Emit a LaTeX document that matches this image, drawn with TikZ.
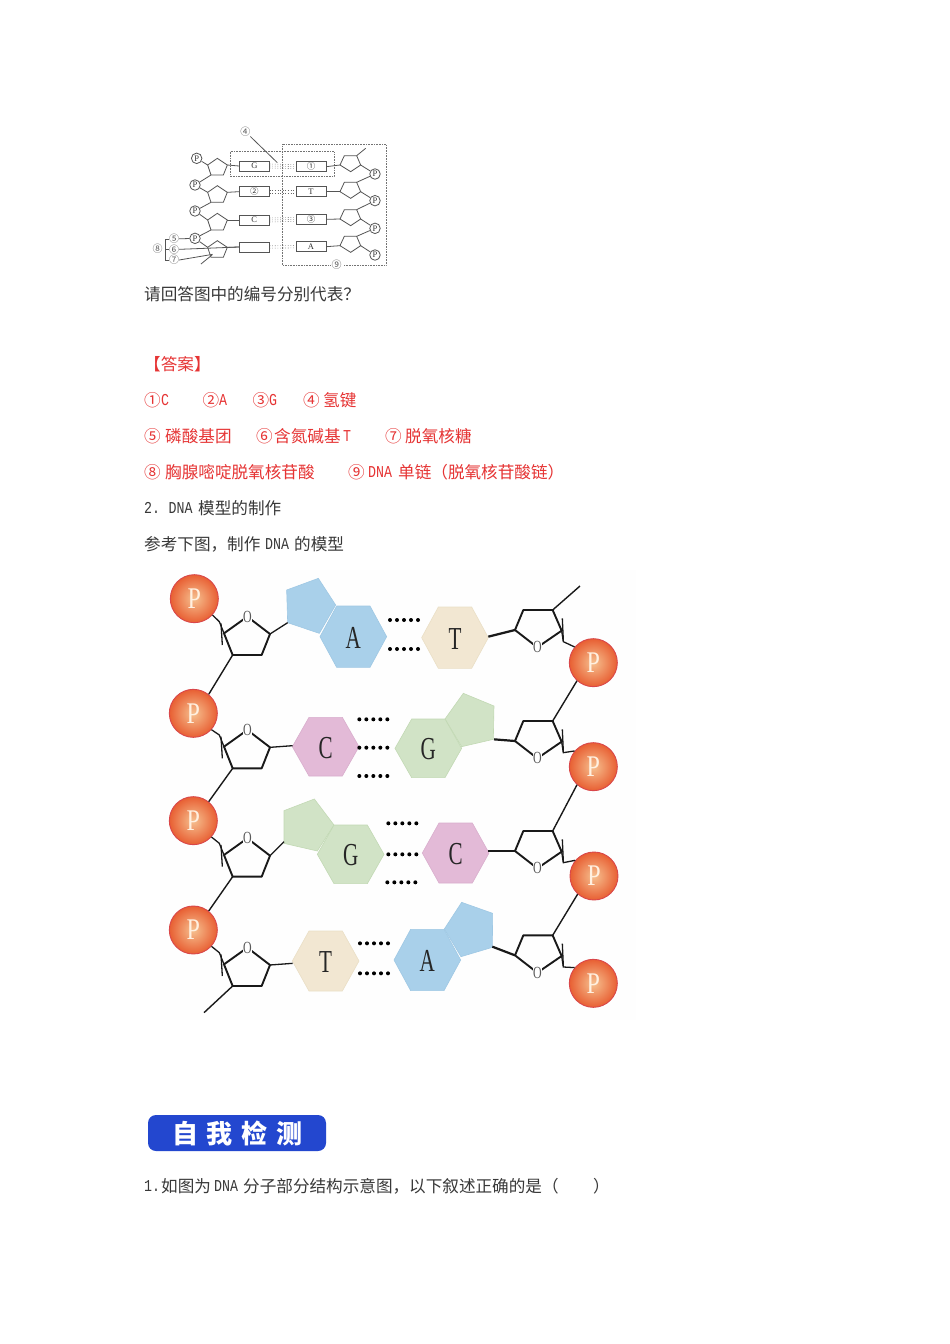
\documentclass[tikz,border=0pt]{standalone}
\usepackage{fontspec}
\setmainfont{Liberation Serif}
\newfontfamily\cj{Noto Sans CJK SC}
\newfontfamily\la[FakeStretch=0.8]{Liberation Mono}
\newcommand{\szb}{\fontsize{16.6}{20}\selectfont}
\newcommand{\szl}{\fontsize{16.6}{20}\selectfont}
\definecolor{txt}{HTML}{383838}
\definecolor{ans}{HTML}{E63434}
\definecolor{lin}{HTML}{555555}
\definecolor{bluef}{HTML}{A9D0EA}
\definecolor{bluel}{HTML}{9FC8E4}
\definecolor{tanf}{HTML}{F2E7D2}
\definecolor{tanl}{HTML}{EADFC6}
\definecolor{pinkf}{HTML}{E3BAD7}
\definecolor{pinkl}{HTML}{D9AECD}
\definecolor{greenf}{HTML}{D1E3C6}
\definecolor{greenl}{HTML}{C2D9B4}
\definecolor{btn}{HTML}{2347CF}
\definecolor{ballin}{HTML}{F6C08F}
\definecolor{ballout}{HTML}{E85F33}
\definecolor{ballrim}{HTML}{D9474A}
\tikzset{
 cn/.style={anchor=west,inner sep=0pt,text=txt,font=\cj\szb},
 ln/.style={anchor=west,inner sep=0pt,text=txt,font=\la\szl},
 ca/.style={cn,text=ans},
 la/.style={ln,text=ans},
 pball/.style={circle,minimum size=48pt,inner sep=0pt,inner color=ballin,outer color=ballout,draw=ballrim,line width=.9pt},
 plet/.style={inner sep=0pt,text=white!88!orange,font=\fontsize{30}{32}\selectfont,xscale=.8},
 stick/.style={line width=1.9pt,black!90,line join=round},
 link/.style={line width=1.3pt,black!90},
 thicklink/.style={line width=2.2pt,black!90},
 sugO/.style={fill=white,inner sep=.2pt,text=black!65,font=\fontsize{17}{18}\selectfont,xscale=.7},
 baselet/.style={inner sep=0pt,text=black!85,font=\fontsize{32}{34}\selectfont,xscale=.66},
 smp/.style={circle,draw=lin,line width=.8pt,minimum size=10.5pt,inner sep=0pt,fill=white,font=\fontsize{8.5}{9}\selectfont,text=black!80},
 smline/.style={draw=lin,line width=.8pt},
 smrect/.style={draw=lin,line width=.8pt,minimum width=30pt,minimum height=10pt,inner sep=0pt,font=\fontsize{8.5}{9}\selectfont,text=black!80},
 smdash/.style={dotted,black!60,line width=.6pt},
 smbox/.style={densely dotted,black!55,line width=.6pt},
 smnum/.style={inner sep=0pt,font=\cj\fontsize{10}{11}\selectfont,text=black!65},
}
\newcommand{\LSug}[2]{%
 \begin{scope}[yshift=-#2*0.33333pt]
 \coordinate (#1a) at (192,190);\coordinate (#1b) at (262,140);\coordinate (#1c) at (330,192);
 \coordinate (#1d) at (305,255);\coordinate (#1e) at (218,255);
 \draw[stick] (#1a)--(#1b)--(#1c)--(#1d)--(#1e)--cycle;
 \draw[link] (183,160)--(187,225);
 \coordinate (#1s) at (178,155);
 \node[sugO] (#1o) at (262,140) {O};
 \end{scope}}
\newcommand{\RSug}[2]{%
 \begin{scope}[yshift=-#2*0.33333pt]
 \coordinate (#1a) at (1065,180);\coordinate (#1b) at (1090,120);\coordinate (#1c) at (1178,120);
 \coordinate (#1d) at (1205,182);\coordinate (#1e) at (1132,232);
 \draw[stick] (#1a)--(#1b)--(#1c)--(#1d)--(#1e)--cycle;
 \draw[link] (1207,145)--(1210,212);
 \coordinate (#1s) at (1210,215);
 \node[sugO] (#1o) at (1132,232) {O};
 \end{scope}}
\newcommand{\Hexa}[7]{%
 \draw[fill=#4,draw=#5,line width=.6pt] (#2-100,#3)--(#2-50,#3-#6)--(#2+50,#3-#6)--(#2+100,#3)--(#2+50,#3+#6)--(#2-50,#3+#6)--cycle;
 \node[baselet] (#1) at (#2,#3+3) {#7};}
\newcommand{\Dots}[2]{\foreach \k in {0,21,42,63,84}{\fill[black] (#1+\k,#2) circle (6);}}
\newcommand{\SL}[2]{%
 \begin{scope}[yshift=-#2*0.33333pt]
 \coordinate (#1a) at (203,135);\coordinate (#1b) at (232,115);\coordinate (#1c) at (262,135);
 \coordinate (#1d) at (250,165);\coordinate (#1e) at (213,165);
 \draw[smline] (#1a)--(#1b)--(#1c)--(#1d)--(#1e)--cycle;
 \end{scope}}
\newcommand{\SR}[2]{%
 \begin{scope}[yshift=-#2*0.33333pt]
 \coordinate (#1a) at (600,135);\coordinate (#1b) at (613,107);\coordinate (#1c) at (650,107);
 \coordinate (#1d) at (662,135);\coordinate (#1e) at (632,155);
 \draw[smline] (#1a)--(#1b)--(#1c)--(#1d)--(#1e)--cycle;
 \end{scope}}
\begin{document}
\begin{tikzpicture}[x=1pt,y=-1pt]
\useasboundingbox (0,0) rectangle (950,1344);
\fill[white] (0,0) rectangle (950,1344);
\begin{scope}[xshift=140pt,yshift=-120pt,x=.33333pt,y=-.33333pt]
 \draw[smbox] (272,95) rectangle (582,170);
 \draw[smbox] (428,73) rectangle (738,436);
 \node[smnum,fill=white,inner sep=1pt] (n9) at (590,434) {⑨};
 \node[smnum] (n4) at (316,35) {④};
 \coordinate (h4) at (412,128);
 \draw[smline] (n4)--(h4);
 \SL{la}{0}\SL{lb}{82}\SL{lc}{165}\SL{ld}{247}
 \SR{ra}{0}\SR{rb}{80}\SR{rc}{162}\SR{rd}{242}
 \node[smp] (pl1) at (170,115) {P};\node[smp] (pl2) at (165,195) {P};
 \node[smp] (pl3) at (165,273) {P};\node[smp] (pl4) at (165,355) {P};
 \node[smp] (pr1) at (705,162) {P};\node[smp] (pr2) at (705,242) {P};
 \node[smp] (pr3) at (705,325) {P};\node[smp] (pr4) at (705,405) {P};
 \node[smrect] (g1) at (343,138) {G};
 \node[smrect] (g2) at (343,215) {\cj ②};
 \node[smrect] (g3) at (343,300) {C};
 \node[smrect] (g4) at (343,381) {};
 \node[smrect] (h1) at (513,140) {\cj ①};
 \node[smrect] (h2) at (513,215) {T};
 \node[smrect] (h3) at (513,298) {\cj ③};
 \node[smrect] (h4b) at (513,380) {A};
 \foreach \a/\b/\c/\d/\e in {la/g1/h1/ra/pl1,lb/g2/h2/rb/pl2,lc/g3/h3/rc/pl3,ld/g4/h4b/rd/pl4}{
  \draw[smline] (\a c)--(\b.west);
  \draw[smline] (\c.east)--(\d a);
  \draw[smline] (\e)--(\a a);
 }
 \draw[smline] (pr1)--(rad);\draw[smline] (pr2)--(rbd);\draw[smline] (pr3)--(rcd);\draw[smline] (pr4)--(rdd);
 \draw[smline] (lae)--(pl2);\draw[smline] (lbe)--(pl3);\draw[smline] (lce)--(pl4);
 \draw[smline] (rbc)--(pr1);\draw[smline] (rcc)--(pr2);\draw[smline] (rdc)--(pr3);
 \coordinate (tr) at (677,85);\coordinate (tl) at (183,432);
 \draw[smline] (rac)--(tr);
 \coordinate (tlb) at (216,405);
 \draw[smline] (tlb)--(tl);
 \foreach \a/\b in {g1/h1,g3/h3}{
  \draw[smdash] ([yshift=-2pt]\a.east)--([yshift=-2pt]\b.west);
  \draw[smdash] (\a.east)--(\b.west);
  \draw[smdash] ([yshift=2pt]\a.east)--([yshift=2pt]\b.west);}
 \foreach \a/\b in {g2/h2,g4/h4b}{
  \draw[smdash] ([yshift=-1.2pt]\a.east)--([yshift=-1.2pt]\b.west);
  \draw[smdash] ([yshift=1.2pt]\a.east)--([yshift=1.2pt]\b.west);}
 \node[smnum] (n5) at (102,357) {⑤};
 \node[smnum] (n6) at (102,388) {⑥};
 \node[smnum] (n7) at (102,420) {⑦};
 \node[smnum] (n8) at (53,387) {⑧};
 \draw[smline] (n5)--(pl4);
 \draw[smline] (n6.east)--(g4.west);
 \coordinate (c7) at (218,403);
 \draw[smline] (n7.east)--(c7);
 \draw[smline] (n5.west)--(77,357)--(77,420)--(n7.west);
 \draw[smline] (77,388)--(n6.west);
\end{scope}
\node[cn] (q1) at (144,294) {请回答图中的编号分别代表？};
\node[ca] (a0) at (144,364) {【答案】};
\node[ca] (a1) at (144,400) {①};\node[la] (a1b) at (161,400) {C};
\node[ca] (a2) at (202.5,400) {②};\node[la] (a2b) at (219,400) {A};
\node[ca] (a3) at (252.5,400) {③};\node[la] (a3b) at (269,400) {G};
\node[ca] (a4) at (303,400) {④};\node[ca] (a4b) at (323,400) {氢键};
\node[ca] (a5) at (144,436) {⑤};\node[ca] (a5b) at (165,436) {磷酸基团};
\node[ca] (a6) at (256,436) {⑥};\node[ca] (a6b) at (274,436) {含氮碱基};\node[la] (a6c) at (343,436) {T};
\node[ca] (a7) at (385,436) {⑦};\node[ca] (a7b) at (405,436) {脱氧核糖};
\node[ca] (a8) at (144,472) {⑧};\node[ca] (a8b) at (165,472) {胸腺嘧啶脱氧核苷酸};
\node[ca] (a9) at (348,472) {⑨};\node[la] (a9b) at (368,472) {DNA};\node[ca] (a9c) at (398,472) {单链（脱氧核苷酸链）};
\node[ln] (t21) at (144,508) {2.};\node[ln] (t22) at (168.5,508) {DNA};\node[cn] (t23) at (198,508) {模型的制作};
\node[cn] (t31) at (144,544) {参考下图，制作};\node[ln] (t32) at (265,544) {DNA};\node[cn] (t33) at (294,544) {的模型};
\fill[white!99!gray] (160,570) rectangle (636,1020);
\begin{scope}[xshift=160pt,yshift=-570pt,x=.33333pt,y=-.33333pt]
 \LSug{A}{0}\LSug{B}{340}\LSug{C}{665}\LSug{D}{993}
 \RSug{E}{0}\RSug{F}{333}\RSug{G}{663}\RSug{H}{976}
 \node[pball] (P1) at (103,86) {};\node[pball] (P2) at (100,430) {};
 \node[pball] (P3) at (100,752) {};\node[pball] (P4) at (100,1080) {};
 \node[pball] (Q1) at (1300,278) {};\node[pball] (Q2) at (1300,590) {};
 \node[pball] (Q3) at (1302,918) {};\node[pball] (Q4) at (1300,1240) {};
 \foreach \n in {P1,P2,P3,P4,Q1,Q2,Q3,Q4}{\node[plet] at (\n) {P};}
 \foreach \s/\p in {A/P1,B/P2,C/P3,D/P4}{\draw[link] (\p.-42)--(\s s)--(\s a);}
 \foreach \s/\p in {E/Q1,F/Q2,G/Q3,H/Q4}{\draw[link] (\p.140)--(\s s)--(\s d);}
 \draw[link,line width=1.4pt] (Ae)--(P2.51);\draw[link,line width=1.4pt] (Be)--(P3.51);\draw[link,line width=1.4pt] (Ce)--(P4.51);
 \draw[link,line width=1.4pt] (Fc)--(Q1.228);\draw[link,line width=1.4pt] (Gc)--(Q2.228);\draw[link,line width=1.4pt] (Hc)--(Q3.228);
 \coordinate (endT) at (1260,48);\coordinate (endB) at (132,1328);
 \draw[link,line width=1.4pt] (Ec)--(endT);
 \draw[link,line width=1.4pt] (De)--(endB);
 \draw[fill=bluef,draw=bluel,line width=.6pt] (380,60)--(475,25)--(527,105)--(478,190)--(383,158)--cycle;
 \Hexa{bA}{580}{200}{bluef}{bluel}{92}{A}
 \Hexa{bT}{885}{203}{tanf}{tanl}{92}{T}
 \coordinate (j1) at (383,158);\draw[link] (Ac)--(j1);
 \draw[thicklink] (985,200)--(Ea);
 \Dots{690}{150}\Dots{690}{237}
 \Hexa{bC}{497}{530}{pinkf}{pinkl}{88}{C}
 \draw[fill=greenf,draw=greenl,line width=.6pt] (855,447)--(910,370)--(1002,408)--(1000,508)--(905,530)--cycle;
 \Hexa{bG}{805}{535}{greenf}{greenl}{88}{G}
 \draw[link] (Bc)--(398,527);
 \draw[thicklink] (1002,508)--(Fa);
 \Dots{598}{448}\Dots{598}{533}\Dots{598}{618}
 \draw[fill=greenf,draw=greenl,line width=.6pt] (372,722)--(463,687)--(522,765)--(472,843)--(372,820)--cycle;
 \Hexa{bGb}{572}{853}{greenf}{greenl}{88}{G}
 \Hexa{bCb}{887}{849}{pinkf}{pinkl}{90}{C}
 \draw[link] (Cc)--(372,815);
 \draw[link,line width=1.5pt] (985,843)--(Ga);
 \Dots{685}{760}\Dots{685}{853}\Dots{682}{937}
 \Hexa{bTb}{497}{1173}{tanf}{tanl}{90}{T}
 \draw[fill=bluef,draw=bluel,line width=.6pt] (853,1077)--(905,997)--(998,1030)--(997,1132)--(903,1160)--cycle;
 \Hexa{bAb}{802}{1170}{bluef}{bluel}{92}{A}
 \draw[link] (Dc)--(398,1180);
 \draw[thicklink] (997,1130)--(Ha);
 \Dots{600}{1120}\Dots{600}{1210}
\end{scope}
\node[rectangle,rounded corners=8pt,fill=btn,minimum width=178pt,minimum height=36pt,inner sep=0pt] (btn) at (237,1133) {};
\node[inner sep=0pt,text=white,font=\cj\bfseries\fontsize{26}{28}\selectfont] (btnt) at (237.5,1133) {自\hspace{9pt}我\hspace{9pt}检\hspace{9pt}测};
\node[ln] (u1) at (144,1186) {1.};\node[cn] (u2) at (161,1186) {如图为};\node[ln] (u3) at (214,1186) {DNA};
\node[cn] (u4) at (243,1186) {分子部分结构示意图，以下叙述正确的是（};
\node[cn] (u5) at (593,1186) {）};
\end{tikzpicture}
\end{document}
